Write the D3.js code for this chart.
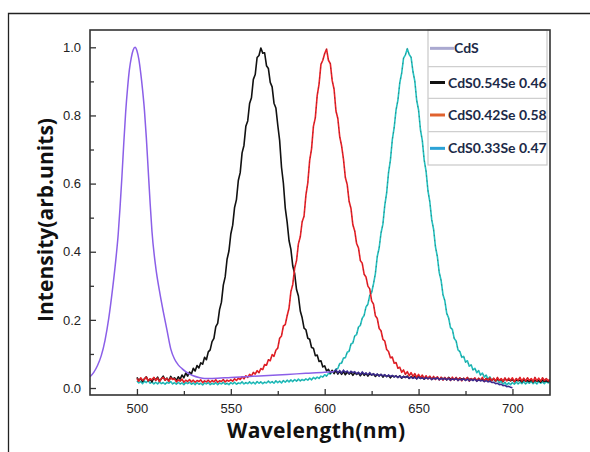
<!DOCTYPE html>
<html>
<head>
<meta charset="utf-8">
<script src="https://cdn.jsdelivr.net/npm/d3@7"></script>
<style>
	body { margin: 0; background: #fff; }
	svg { display: block; }
</style>
</head>
<body>
<div id="chart"></div>
<script>
let noisyStart	= 500;
let noisyEnd	= 720;

let cdsNm = [475,477,479,481,483,485,487,489,490,491,492,493,494,495,496,497,498,499,500,501,502,503,504,505,506,507,508,510,512,514,516,518,520,522,524,526,528,530,533,536,540,550,560,570,580,590,600,605];
let cdsI  = [.033,.046,.066,.095,.14,.205,.29,.39,.45,.53,.62,.72,.81,.88,.935,.97,.992,1.0,.99,.965,.925,.875,.815,.735,.64,.545,.46,.355,.285,.225,.17,.115,.085,.068,.057,.048,.041,.036,.031,.028,.028,.031,.034,.037,.040,.043,.046,.048];
// CdS tail after 606 nm, 1 nm steps up to 700
let cdsTailI = [
	.053,.045,.051,.044,.052,.046,.050,.043,.049,.045,
	.048,.042,.046,.040,.047,.041,.044,.039,.045,.038,
	.042,.037,.041,.035,.040,.036,.039,.033,.038,.034,
	.037,.032,.036,.031,.035,.030,.034,.031,.033,.029,
	.032,.028,.031,.027,.032,.028,.030,.026,.031,.027,
	.030,.025,.029,.026,.030,.024,.028,.025,.029,.024,
	.028,.023,.027,.024,.028,.022,.026,.023,.027,.022,
	.026,.021,.025,.022,.026,.020,.024,.021,.023,.019,
	.022,.018,.020,.016,.017,.013,.014,.010,.011,.007,
	.008,.004,.005,.002,.001];

let se46I = [
	.031,.022,.028,.019,.027,.033,.021,.026,.018,.030,
	.024,.032,.020,.027,.035,.023,.029,.021,.034,.026,
	.030,.022,.033,.026,.038,.030,.044,.035,.047,.041,
	.058,.050,.066,.059,.074,.070,.090,.083,.106,.112,
	.136,.146,.180,.190,.230,.252,.302,.326,.378,.402,
	.452,.478,.530,.553,.609,.632,.690,.712,.768,.784,
	.835,.852,.906,.920,.970,.976,.998,.983,.984,.946,
	.938,.897,.884,.836,.822,.772,.727,.648,.601,.528,
	.487,.433,.407,.358,.336,.289,.270,.226,.206,.176,
	.171,.146,.143,.119,.117,.095,.097,.078,.080,.062,
	.065,.050,.055,.044,.052,.042,.051,.041,.049,.040,
	.048,.039,.047,.041,.046,.037,.045,.040,.044,.036,
	.045,.037,.043,.035,.042,.038,.041,.034,.040,.036,
	.040,.032,.038,.034,.037,.030,.036,.033,.035,.031,
	.036,.029,.034,.031,.035,.028,.033,.030,.034,.027,
	.033,.028,.032,.026,.031,.029,.033,.025,.030,.028,
	.031,.025,.030,.027,.029,.024,.031,.026,.028,.025,
	.030,.024,.029,.026,.028,.023,.030,.025,.027,.024,
	.028,.022,.027,.024,.026,.021,.028,.023,.025,.022,
	.027,.021,.026,.023,.025,.020,.027,.022,.024,.021,
	.025,.019,.024,.021,.023,.018,.025,.020,.022,.019,
	.024,.018,.023,.020,.022,.017,.024,.019,.021,.018,
	.022];

let se58I = [
	.028,.020,.030,.023,.026,.032,.021,.027,.024,.031,
	.022,.029,.019,.027,.031,.023,.028,.020,.030,.025,
	.027,.018,.024,.020,.026,.017,.023,.019,.025,.018,
	.023,.017,.022,.019,.024,.016,.021,.018,.023,.017,
	.022,.018,.024,.017,.021,.019,.025,.018,.023,.020,
	.024,.020,.027,.022,.029,.025,.033,.027,.036,.031,
	.040,.035,.046,.041,.051,.045,.057,.054,.069,.067,
	.083,.080,.098,.093,.111,.117,.146,.153,.182,.186,
	.212,.234,.283,.304,.352,.374,.423,.444,.488,.504,
	.566,.602,.668,.702,.768,.793,.858,.892,.950,.962,
	.982,.995,.962,.952,.902,.877,.813,.791,.738,.711,
	.672,.618,.597,.548,.527,.479,.461,.424,.411,.374,
	.366,.334,.326,.299,.291,.256,.246,.212,.204,.175,
	.168,.143,.138,.113,.107,.089,.091,.073,.075,.058,
	.061,.046,.053,.040,.048,.036,.045,.034,.042,.031,
	.040,.030,.038,.028,.036,.027,.035,.026,.034,.025,
	.033,.024,.032,.023,.031,.025,.030,.022,.032,.024,
	.031,.022,.030,.021,.029,.024,.031,.020,.028,.023,
	.030,.020,.029,.022,.031,.019,.028,.023,.030,.021,
	.029,.020,.031,.022,.028,.019,.030,.021,.029,.022,
	.030,.019,.028,.023,.031,.020,.029,.021,.030,.022,
	.028,.019,.031,.021,.029,.020,.030,.022,.028,.021,
	.026];

let se47I = [
	.021,.015,.019,.013,.020,.016,.022,.014,.018,.012,
	.017,.012,.018,.013,.016,.011,.017,.014,.019,.012,
	.016,.011,.017,.012,.015,.010,.016,.013,.017,.011,
	.015,.010,.016,.011,.014,.009,.015,.012,.016,.010,
	.014,.011,.016,.010,.015,.012,.017,.011,.014,.010,
	.016,.012,.017,.011,.015,.013,.018,.012,.016,.013,
	.018,.013,.017,.012,.019,.014,.018,.013,.017,.015,
	.020,.015,.019,.014,.021,.016,.020,.015,.022,.017,
	.023,.018,.024,.019,.025,.020,.026,.021,.025,.022,
	.027,.023,.029,.024,.031,.027,.032,.028,.035,.032,
	.039,.035,.043,.041,.049,.046,.056,.057,.072,.073,
	.088,.089,.105,.108,.129,.132,.153,.157,.179,.184,
	.205,.213,.238,.246,.272,.280,.306,.336,.386,.411,
	.455,.481,.536,.573,.632,.669,.728,.764,.816,.845,
	.896,.924,.968,.978,.996,.979,.971,.929,.901,.844,
	.816,.758,.726,.669,.636,.579,.546,.494,.466,.414,
	.386,.339,.316,.274,.256,.219,.206,.177,.172,.145,
	.138,.112,.107,.090,.093,.076,.080,.064,.068,.053,
	.058,.045,.051,.038,.044,.032,.038,.026,.033,.022,
	.028,.019,.025,.015,.021,.011,.017,.009,.015,.010,
	.016,.011,.018,.012,.017,.013,.019,.012,.018,.014,
	.019,.013,.018,.012,.020,.014,.018,.013,.019,.015,
	.017];

let legendLabels	= ["CdS", "CdS0.54Se 0.46", "CdS0.42Se 0.58", "CdS0.33Se 0.47"];
let legendColors	= ["#aaa9d0", "#111111", "#e0622e", "#2ba2d6"];
let xTicks			= [500, 550, 600, 650, 700];
let xMinor			= [525, 575, 625, 675];
let yTicks			= [0.0, 0.2, 0.4, 0.6, 0.8, 1.0];
let yMinor			= [0.1, 0.3, 0.5, 0.7, 0.9];

let canvasWidth		= 590;
let canvasHeight	= 452;
let plot			= { left: 90, right: 550, top: 30, bottom: 395 };

let x = d3.scaleLinear().domain([475, 720]).range([plot.left, plot.right]);
let y = d3.scaleLinear().domain([-0.0205, 1.0508]).range([plot.bottom, plot.top]);

let grid		= d3.range(noisyStart, noisyEnd + 1);
let toPts		= (vals) => vals.map((v, i) => ({ nm: grid[i], v: v }));
let cdsPts		= cdsNm.map((n, i) => ({ nm: n, v: cdsI[i] }));
let cdsTail		= [cdsPts[cdsPts.length - 1]].concat(cdsTailI.map((v, i) => ({ nm: 606 + i, v: v })));

let line = d3.line().x((o) => x(o.nm)).y((o) => y(o.v));

let svg = d3.select("#chart").append("svg")
	.attr("width", canvasWidth)
	.attr("height", canvasHeight);

// outer figure border (top and left only)
svg.append("path")
	.attr("d", "M8.5,452 V13.5 H590")
	.attr("fill", "none")
	.attr("stroke", "#222")
	.attr("stroke-width", 1.3);

svg.append("clipPath").attr("id", "plot-clip").append("rect")
	.attr("x", plot.left).attr("y", plot.top)
	.attr("width", plot.right - plot.left).attr("height", plot.bottom - plot.top);

let curves = svg.append("g").attr("clip-path", "url(#plot-clip)");

let series = [
	{ pts: toPts(se47I), color: "#22c2c0", dash: true },
	{ pts: toPts(se46I), color: "#111111", dash: false },
	{ pts: toPts(se58I), color: "#ec1f26", dash: true }
];

series.forEach((s) => {
	curves.append("path")
		.attr("d", line(s.pts))
		.attr("fill", "none")
		.attr("stroke", s.color)
		.attr("stroke-width", 1.6)
		.attr("stroke-linejoin", "round");
	if (s.dash) {
		curves.append("path")
			.attr("d", line(s.pts))
			.attr("fill", "none")
			.attr("stroke", "#333")
			.attr("stroke-opacity", 0.45)
			.attr("stroke-width", 0.9)
			.attr("stroke-dasharray", "1.5,3.5");
	}
});

curves.append("path")
	.attr("d", line.curve(d3.curveMonotoneX)(cdsPts))
	.attr("fill", "none")
	.attr("stroke", "#8b5fe8")
	.attr("stroke-width", 1.5);

curves.append("path")
	.attr("d", line.curve(d3.curveLinear)(cdsTail))
	.attr("fill", "none")
	.attr("stroke", "#3b2a8e")
	.attr("stroke-width", 1.5);

// axes: ticks pointing inward
let axisG = svg.append("g").attr("class", "axes");

axisG.append("g")
	.attr("transform", "translate(0," + plot.bottom + ")")
	.call(d3.axisBottom(x).tickValues(xTicks).tickSizeInner(-6).tickSizeOuter(0).tickPadding(9).tickFormat(d3.format("d")))
	.call((g) => g.select(".domain").remove());

axisG.append("g")
	.attr("transform", "translate(0," + plot.bottom + ")")
	.call(d3.axisBottom(x).tickValues(xMinor).tickSizeInner(-4).tickSizeOuter(0).tickFormat(""))
	.call((g) => g.select(".domain").remove());

axisG.append("g")
	.attr("transform", "translate(" + plot.left + ",0)")
	.call(d3.axisLeft(y).tickValues(yTicks).tickSizeInner(-6).tickSizeOuter(0).tickPadding(9).tickFormat(d3.format(".1f")))
	.call((g) => g.select(".domain").remove());

axisG.append("g")
	.attr("transform", "translate(" + plot.left + ",0)")
	.call(d3.axisLeft(y).tickValues(yMinor).tickSizeInner(-4).tickSizeOuter(0).tickFormat(""))
	.call((g) => g.select(".domain").remove());

axisG.selectAll(".tick line").attr("stroke", "#333").attr("stroke-width", 1.3);
axisG.selectAll(".tick text")
	.attr("fill", "#222")
	.style("font-family", "'Liberation Sans', Arial, sans-serif")
	.style("font-size", "13px");

// legend
let legend = svg.append("g").attr("class", "legend");
let lg = { left: 428, right: 547, top: 30, rows: [30, 66.7, 98.3, 131.7, 165] };

legend.append("rect")
	.attr("x", lg.left).attr("y", lg.top)
	.attr("width", lg.right - lg.left).attr("height", lg.rows[4] - lg.top)
	.attr("fill", "#fff")
	.attr("stroke", "#c8c8c8")
	.attr("stroke-width", 1.2);

legend.selectAll(".sep").data(lg.rows.slice(1, 4)).enter().append("line")
	.attr("x1", lg.left).attr("x2", lg.right)
	.attr("y1", (o) => o).attr("y2", (o) => o)
	.attr("stroke", "#cfcfcf")
	.attr("stroke-width", 1.2);

let rowG = legend.selectAll(".row").data(legendLabels).enter().append("g")
	.attr("transform", (o, i) => "translate(0," + ((lg.rows[i] + lg.rows[i + 1]) / 2) + ")");

rowG.append("line")
	.attr("x1", 430)
	.attr("x2", (o, i) => (i === 0 ? 454 : 445))
	.attr("stroke", (o, i) => legendColors[i])
	.attr("stroke-width", 3);

rowG.append("text")
	.attr("x", (o, i) => (i === 0 ? 454 : 448))
	.attr("dy", "0.36em")
	.attr("fill", "#1c2a48")
	.style("font-family", "Lato, 'Open Sans', sans-serif")
	.style("font-weight", "bold")
	.style("font-size", "14px")
	.text((o) => o);

// frame on top
svg.append("rect")
	.attr("x", plot.left).attr("y", plot.top)
	.attr("width", plot.right - plot.left).attr("height", plot.bottom - plot.top)
	.attr("fill", "none")
	.attr("stroke", "#333")
	.attr("stroke-width", 1.6);

svg.append("text")
	.attr("x", 316).attr("y", 438)
	.attr("text-anchor", "middle")
	.attr("textLength", 178)
	.attr("fill", "#111")
	.style("font-family", "'Open Sans', sans-serif")
	.style("font-weight", "bold")
	.style("font-size", "21px")
	.text("Wavelength(nm)");

svg.append("text")
	.attr("transform", "translate(52.5,220) rotate(-90)")
	.attr("text-anchor", "middle")
	.attr("textLength", 204)
	.attr("fill", "#111")
	.style("font-family", "'Open Sans', sans-serif")
	.style("font-weight", "bold")
	.style("font-size", "21px")
	.text("Intensity(arb.units)");
</script>
</body>
</html>
